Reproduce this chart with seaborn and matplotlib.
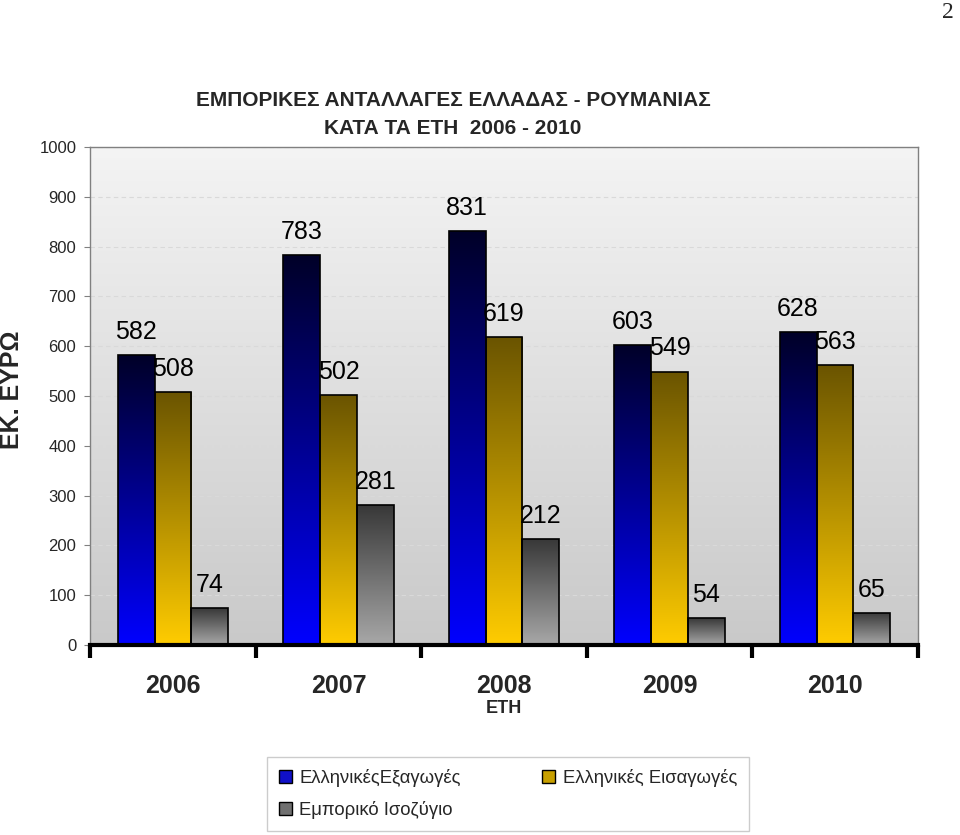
import matplotlib
matplotlib.use("Agg")
import matplotlib.pyplot as plt
import numpy as np
import pandas as pd
import seaborn as sns
from matplotlib.colors import LinearSegmentedColormap
from matplotlib.patches import Patch

# data
years = ['2006', '2007', '2008', '2009', '2010']
exports = [582, 783, 831, 603, 628]
imports = [508, 502, 619, 549, 563]
balance = [74, 281, 212, 54, 65]
series = ['ΕλληνικέςΕξαγωγές', 'Ελληνικές Εισαγωγές', 'Εμπορικό Ισοζύγιο']

df = pd.DataFrame({
    'year': years * 3,
    'value': exports + imports + balance,
    'series': [series[0]] * 5 + [series[1]] * 5 + [series[2]] * 5,
})

# bottom -> top colours of each bar gradient
grads = [('#0000ff', '#000028'), ('#ffcc00', '#6a5400'), ('#a8a8a8', '#383838')]
legend_cols = ['#1010c8', '#c8a000', '#707070']

sns.set_style('white')
plt.rcParams['font.family'] = ['Liberation Sans', 'DejaVu Sans']

fig = plt.figure(figsize=(9.6, 8.35), dpi=100)
ax = fig.add_axes([0.094, 0.2275, 0.862, 0.5965])

sns.barplot(data=df, x='year', y='value', hue='series', order=years,
            hue_order=series, width=0.67, ax=ax, legend=False)

ax.set_xlim(-0.5, 4.5)
ax.set_ylim(0, 1000)

# plot area background: light at top, grey at bottom
bg = np.linspace(0, 1, 256).reshape(-1, 1)
bg_cmap = LinearSegmentedColormap.from_list('bg', ['#c9c9c9', '#f4f4f4'])
ax.imshow(bg, cmap=bg_cmap, extent=[-0.5, 4.5, 0, 1000], origin='lower',
          aspect='auto', zorder=0)

# gradient fill for bars
for cont, (c0, c1) in zip(ax.containers, grads):
    cmap = LinearSegmentedColormap.from_list('g', [c0, c1])
    for p in cont.patches:
        x0, w, h = p.get_x(), p.get_width(), p.get_height()
        im = ax.imshow(bg, cmap=cmap, extent=[x0, x0 + w, 0, h], origin='lower',
                       aspect='auto', zorder=2)
        im.set_clip_path(p)
        p.set_facecolor('none')
        p.set_edgecolor('black')
        p.set_linewidth(1.2)
        p.set_zorder(3)
    ax.bar_label(cont, padding=8, fontsize=18, color='black', zorder=4)

ax.set_xlim(-0.5, 4.5)
ax.set_ylim(0, 1000)

# grid and axes
ax.set_axisbelow(True)
ax.yaxis.grid(True, linestyle=(0, (4, 3)), color='#d9d9d9', linewidth=0.8)
ax.set_yticks(range(0, 1001, 100))
ax.tick_params(axis='y', labelsize=12, length=4, color='#808080', pad=6, left=True)
for side in ['top', 'right', 'left']:
    ax.spines[side].set_color('#808080')
    ax.spines[side].set_linewidth(1.0)
ax.spines['bottom'].set_color('black')
ax.spines['bottom'].set_linewidth(3)

ax.set_xticks(np.arange(-0.5, 5, 1))
ax.set_xticklabels([])
ax.tick_params(axis='x', which='major', length=9, width=3, color='black', direction='out', bottom=True)
ax.set_xticks(range(5), minor=True)
ax.set_xticklabels(years, minor=True, fontsize=18, fontweight='bold')
ax.tick_params(axis='x', which='minor', length=0, pad=21)

ax.set_xlabel('ΕΤΗ', fontsize=13, fontweight='bold', labelpad=1)
ax.set_ylabel('')

fig.text(12 / 960, 1 - 390 / 835, 'ΕΚ. ΕΥΡΩ', rotation=90, ha='center', va='center',
         fontsize=18, fontweight='bold')
fig.text(453 / 960, 1 - 101 / 835, 'ΕΜΠΟΡΙΚΕΣ ΑΝΤΑΛΛΑΓΕΣ ΕΛΛΑΔΑΣ - ΡΟΥΜΑΝΙΑΣ',
         ha='center', va='center', fontsize=15, fontweight='bold')
fig.text(453 / 960, 1 - 129 / 835, 'ΚΑΤΑ ΤΑ ΕΤΗ  2006 - 2010',
         ha='center', va='center', fontsize=15, fontweight='bold')
fig.text(948 / 960, 1 - 12 / 835, '2', ha='center', va='center', fontsize=17,
         family='Liberation Serif')

# legend filled column-wise, so order handles to read row by row
order = [0, 2, 1]
handles = [Patch(facecolor=legend_cols[i], edgecolor='black', linewidth=1) for i in order]
labels = [series[i] for i in order]
leg = fig.legend(handles, labels, loc='center', bbox_to_anchor=(508 / 960, 1 - 794 / 835),
                 ncol=2, fontsize=13.3, frameon=True, fancybox=False, handlelength=0.7,
                 handleheight=0.7, handletextpad=0.4, columnspacing=4.4,
                 labelspacing=0.8, borderpad=0.65, borderaxespad=0)
leg.get_frame().set_edgecolor('#c0c0c0')
leg.get_frame().set_linewidth(1)

fig.savefig('out.png', dpi=100)
